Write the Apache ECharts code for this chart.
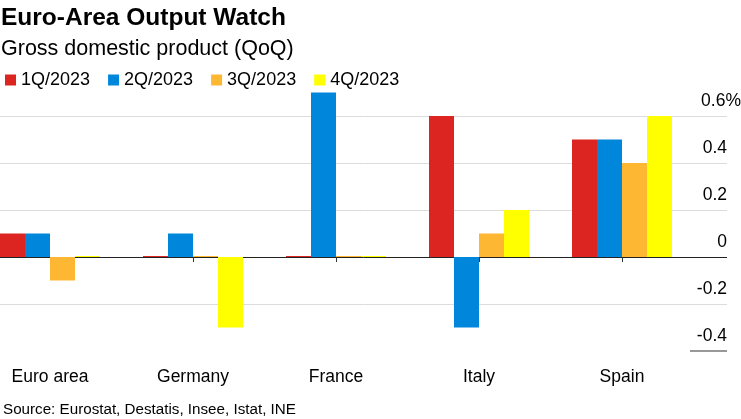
<!DOCTYPE html>
<html><head><meta charset="utf-8">
<script src="https://cdn.jsdelivr.net/npm/echarts@6/dist/echarts.min.js"></script>
<style>html,body{margin:0;padding:0;background:#fff}#c{width:741px;height:419px}</style>
</head><body><div id="c"></div>
<script>
const categories = ['Euro area', 'Germany', 'France', 'Italy', 'Spain'];
const seriesNames = ['1Q/2023', '2Q/2023', '3Q/2023', '4Q/2023'];
const q1 = [0.1, 0.0, 0.0, 0.6, 0.5];
const q2 = [0.1, 0.1, 0.7, -0.3, 0.5];
const q3 = [-0.1, 0.0, 0.0, 0.1, 0.4];
const q4 = [0.0, -0.3, 0.0, 0.2, 0.6];
const yTicks = [-0.4, -0.2, 0, 0.2, 0.4, 0.6];
const colors = ['#dc2521', '#0086db', '#fdb733', '#ffff00'];
const FONT = 'Liberation Sans, Arial, Helvetica, sans-serif';

const chart = echarts.init(document.getElementById('c'), null, {renderer: 'canvas'});
const values = [q1, q2, q3, q4];
const series = values.map((v, i) => ({
  name: seriesNames[i], type: 'bar', xAxisIndex: 0, yAxisIndex: 0,
  data: v, barWidth: 25, barGap: '0%', barMinHeight: 1,
  itemStyle: {color: colors[i]}, z: 3
}));
series.push({type: 'line', xAxisIndex: 1, yAxisIndex: 1, data: [], silent: true});

chart.setOption({
  animation: false,
  color: colors,
  title: [
    {text: 'Euro-Area Output Watch', left: 1, top: 6, padding: 0, textStyle: {fontFamily: FONT, fontWeight: 'bold', fontSize: 24.5, color: '#000'}},
    {text: 'Gross domestic product (QoQ)', left: 1, top: 38, padding: 0, textStyle: {fontFamily: FONT, fontWeight: 'normal', fontSize: 21.5, color: '#000'}},
    {text: 'Source: Eurostat, Destatis, Insee, Istat, INE', left: 3, top: 402, padding: 0, textStyle: {fontFamily: FONT, fontWeight: 'normal', fontSize: 15.2, color: '#000'}}
  ],
  legend: {
    data: seriesNames, left: 5, top: 71, padding: 0, icon: 'rect', itemWidth: 11, itemHeight: 11, itemGap: 18,
    textStyle: {fontFamily: FONT, fontSize: 18, color: '#000'}
  },
  grid: [
    {left: -21.5, right: 47.5, top: 92.5, bottom: 68, containLabel: false, outerBoundsMode: 'none'},
    {left: 0, right: 14, top: 116, bottom: 68, containLabel: false, outerBoundsMode: 'none'}
  ],
  xAxis: [
    {type: 'category', gridIndex: 0, data: categories, axisLine: {show: false},
     axisTick: {show: true, alignWithLabel: true, length: 5, lineStyle: {color: '#333'}},
     axisLabel: {fontFamily: FONT, fontSize: 17.5, color: '#000', margin: 17}},
    {type: 'value', gridIndex: 1, show: false, min: 0, max: 1}
  ],
  yAxis: [
    {type: 'value', gridIndex: 0, min: -0.4, max: 0.7, show: false, splitLine: {show: false}},
    {type: 'value', gridIndex: 1, min: -0.4, max: 0.6, interval: 0.2, position: 'right',
     axisLine: {show: false}, axisTick: {show: false},
     splitLine: {show: true, lineStyle: {width: 1, color: ['rgba(0,0,0,0)', '#dcdcdc', '#222', '#dcdcdc', '#dcdcdc', '#dcdcdc']}},
     axisLabel: {inside: true, margin: -14, verticalAlign: 'bottom',
       formatter: v => {
         const r = Math.round(v * 10) / 10;
         const s = r === 0 ? '0' : String(r);
         return r === yTicks[yTicks.length - 1] ? '{t|' + s + '%}' : '{n|' + s + '}';
       },
       rich: {
         n: {fontFamily: FONT, fontSize: 17.5, color: '#000', padding: [0, 14, 6, 0]},
         t: {fontFamily: FONT, fontSize: 17.5, color: '#000', padding: [0, 0, 6, 0]}
       }}}
  ],
  series: series
});

// short underline under the bottom tick label
const p0 = chart.convertToPixel({xAxisIndex: 1, yAxisIndex: 1}, [1, yTicks[0]]);
chart.setOption({graphic: [{type: 'line', shape: {x1: p0[0] - 37, y1: p0[1], x2: p0[0], y2: p0[1]}, style: {stroke: '#333', lineWidth: 1}}]});
</script></body></html>
